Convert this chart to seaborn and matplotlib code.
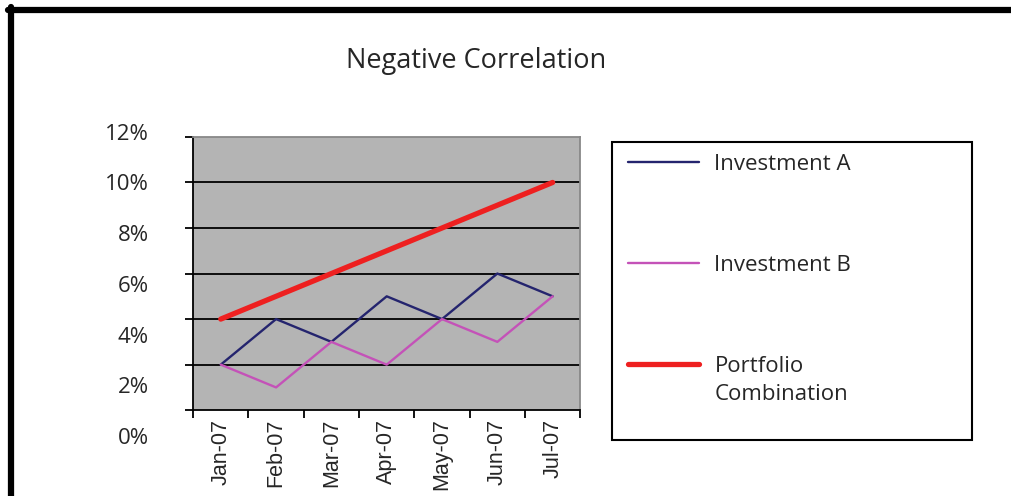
import numpy as np
import pandas as pd
import matplotlib
matplotlib.use("Agg")
import matplotlib.pyplot as plt
import matplotlib.lines as mlines
import matplotlib.patches as mpatches
import matplotlib.transforms as mtrans
import seaborn as sns

# Dades del grafic (en %)
months = ["Jan-07", "Feb-07", "Mar-07", "Apr-07", "May-07", "Jun-07", "Jul-07"]
investment_a = [2, 4, 3, 5, 4, 6, 5]
investment_b = [2, 1, 3, 2, 4, 3, 5]
portfolio = [4, 5, 6, 7, 8, 9, 10]
y_ticks = [0, 2, 4, 6, 8, 10, 12]

sns.set_style("white")
plt.rcParams["font.family"] = ["Open Sans", "DejaVu Sans"]

fig = plt.figure(figsize=(10.11, 4.96), dpi=100)
ax = fig.add_axes([0.191, 0.173, 0.383, 0.551])
ax.set_facecolor("#b4b4b4")

df = pd.DataFrame({"month": months, "A": investment_a,
                   "B": investment_b, "P": portfolio})

sns.lineplot(data=df, x="month", y="A", ax=ax, color="#24246e",
             linewidth=1.7, label="Investment A", zorder=3)
sns.lineplot(data=df, x="month", y="B", ax=ax, color="#c452b8",
             linewidth=1.7, label="Investment B", zorder=3)
sns.lineplot(data=df, x="month", y="P", ax=ax, color="#ee2020",
             linewidth=3.8, label="Portfolio", zorder=4)

ax.set_xlim(-0.5, len(months) - 0.5)
ax.set_ylim(0, 12)
ax.set_yticks(y_ticks)
ax.set_yticklabels([f"{v}%" for v in y_ticks])
for v in y_ticks[1:-1]:
    ax.axhline(v, color="black", linewidth=1.3, zorder=2)

ax.set_xticks(range(len(months)))
ax.set_xticklabels(months, rotation=90, fontfamily="Liberation Sans", fontsize=15.5)
ax.set_xticks(np.arange(-0.5, len(months), 1), minor=True)
ax.tick_params(axis="x", which="major", length=0, pad=6)
ax.tick_params(axis="x", which="minor", direction="out", length=6,
               width=1.3, color="black", bottom=True)
ax.tick_params(axis="y", direction="out", length=6, width=1.3,
               color="black", left=True, labelsize=16, pad=26)
ax.set_xlabel("")
ax.set_ylabel("")

# a l'original les etiquetes de l'eix y estan una mica desplaçades
for lab, v in zip(ax.get_yticklabels(), y_ticks):
    shift = mtrans.ScaledTranslation(0, -(10 - v) * 2.6 / 100, fig.dpi_scale_trans)
    lab.set_transform(lab.get_transform() + shift)

for side in ["left", "bottom"]:
    ax.spines[side].set_color("black")
    ax.spines[side].set_linewidth(1.3)
for side in ["top", "right"]:
    ax.spines[side].set_color("#888888")
    ax.spines[side].set_linewidth(1.3)

fig.text(0.471, 0.877, "Negative Correlation", ha="center", va="center",
         fontsize=19.5)

# Llegenda sense marc; el requadre es dibuixa a part
leg = ax.legend(loc="upper left", bbox_to_anchor=(0.621, 0.690),
                bbox_transform=fig.transFigure, fontsize=16, frameon=False,
                handlelength=3.2, handletextpad=0.7, labelspacing=3.6,
                borderpad=0, borderaxespad=0)
ax.annotate("Combination", xy=(0, 0), xycoords=leg.get_texts()[2],
            xytext=(0, -7), textcoords="offset pixels", va="top", ha="left",
            fontsize=16, zorder=10, annotation_clip=False)
fig.add_artist(mpatches.Rectangle((0.605, 0.113), 0.356, 0.601, fill=False,
                                  edgecolor="black", linewidth=1.5,
                                  transform=fig.transFigure))

# Marc exterior
fig.add_artist(mlines.Line2D([0.008, 1.0], [0.98, 0.98], color="black",
                             linewidth=4.5, transform=fig.transFigure))
fig.add_artist(mlines.Line2D([0.011, 0.011], [0.0, 0.985], color="black",
                             linewidth=4.5, transform=fig.transFigure))

fig.savefig("out.png", dpi=100)
